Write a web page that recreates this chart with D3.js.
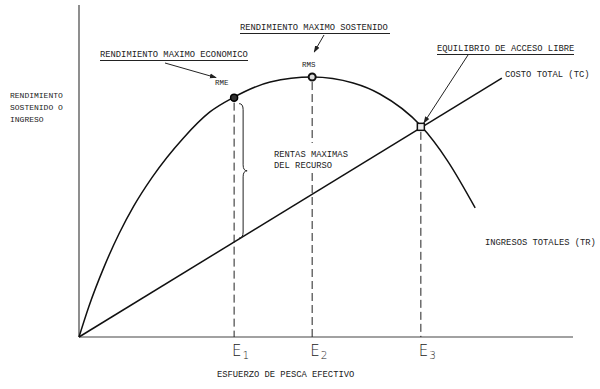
<!DOCTYPE html>
<html>
<head>
<meta charset="utf-8">
<script src="https://cdn.jsdelivr.net/npm/d3@7"></script>
<style>
  body { margin: 0; background: #fff; }
  text { font-family: "Liberation Mono", "DejaVu Sans Mono", monospace; fill: #222; }
</style>
</head>
<body>
<div id="chart"></div>
<script>
// effort (x) vs sustained yield / revenue (y)
const trEffort  = [0, 0.20, 0.51, 0.81, 1.11, 1.48, 2.11, 2.65, 3.12, 3.87, 4.72, 5.55, 6.09, 6.92, 7.45, 8.02];
const trRevenue = [0, 0.92, 2.12, 3.11, 3.95, 4.81, 5.99, 6.78, 7.21, 7.68, 7.83, 7.65, 7.32, 6.36, 5.33, 3.89];
const tcEffort  = [0, 8.56];
const tcCost    = [0, 7.80];

// key effort levels and the matching points
const eLabels = ["1", "2", "3"];
const eValues = [3.14, 4.72, 6.92];
const eYields = [7.21, 7.83, 6.33];

(function() {
    const width = 600, height = 389;

    const x = d3.scaleLinear().domain([0, 10]).range([79, 573]);
    const y = d3.scaleLinear().domain([0, 10]).range([337, 5]);

    const svg = d3.select("#chart").append("svg")
        .attr("width", width)
        .attr("height", height);

    svg.append("defs").append("marker")
        .attr("id", "arrow")
        .attr("viewBox", "0 0 10 10")
        .attr("refX", 9).attr("refY", 5)
        .attr("markerWidth", 7).attr("markerHeight", 7)
        .attr("orient", "auto")
        .append("path")
        .attr("d", "M0,1.5 L10,5 L0,8.5 Z")
        .attr("fill", "#222");

    // axes (plain lines, no ticks)
    svg.append("line")
        .attr("x1", x(0)).attr("y1", y(0)).attr("x2", x(0)).attr("y2", y(10))
        .attr("stroke", "#444").attr("stroke-width", 1.2);
    svg.append("line")
        .attr("x1", x(0)).attr("y1", y(0)).attr("x2", x(10)).attr("y2", y(0))
        .attr("stroke", "#444").attr("stroke-width", 1.2);

    // dashed drop lines
    const dash = "8,4";
    eValues.forEach((e, i) => {
        const top = y(eYields[i]) + 5;
        if (i == 1) {
            // broken where the "rentas" text sits
            svg.append("line")
                .attr("x1", x(e)).attr("x2", x(e))
                .attr("y1", top).attr("y2", 143)
                .attr("stroke", "#222").attr("stroke-dasharray", dash);
            svg.append("line")
                .attr("x1", x(e)).attr("x2", x(e))
                .attr("y1", 173).attr("y2", y(0))
                .attr("stroke", "#222").attr("stroke-dasharray", dash);
        } else {
            svg.append("line")
                .attr("x1", x(e)).attr("x2", x(e))
                .attr("y1", top).attr("y2", y(0))
                .attr("stroke", "#222").attr("stroke-dasharray", dash);
        }
    });

    // total revenue curve
    const tr = trEffort.map((d, i) => [d, trRevenue[i]]);
    const line = d3.line()
        .x(d => x(d[0]))
        .y(d => y(d[1]))
        .curve(d3.curveMonotoneX);
    svg.append("path")
        .attr("d", line(tr))
        .attr("fill", "none")
        .attr("stroke", "#111")
        .attr("stroke-width", 1.5);

    // total cost line
    const tc = tcEffort.map((d, i) => [d, tcCost[i]]);
    svg.append("path")
        .attr("d", d3.line().x(d => x(d[0])).y(d => y(d[1]))(tc))
        .attr("fill", "none")
        .attr("stroke", "#111")
        .attr("stroke-width", 1.5);

    // brace for max rents between TR and TC at E1
    const bx = x(eValues[0]) + 5;
    const bTop = y(eYields[0]) + 6;
    const bBot = y(eValues[0] * tcCost[1] / tcEffort[1]) - 4;
    const bMid = (bTop + bBot) / 2;
    svg.append("path")
        .attr("d", `M${bx},${bTop} Q${bx + 4},${bTop} ${bx + 4},${bTop + 6} L${bx + 4},${bMid - 6}
                    Q${bx + 4},${bMid} ${bx + 8},${bMid} Q${bx + 4},${bMid} ${bx + 4},${bMid + 6}
                    L${bx + 4},${bBot - 6} Q${bx + 4},${bBot} ${bx},${bBot}`)
        .attr("fill", "none")
        .attr("stroke", "#222")
        .attr("stroke-width", 1);

    // points
    svg.append("circle")
        .attr("cx", x(eValues[0])).attr("cy", y(eYields[0])).attr("r", 3.5)
        .attr("fill", "#333").attr("stroke", "#000").attr("stroke-width", 1.5);
    svg.append("circle")
        .attr("cx", x(eValues[1])).attr("cy", y(eYields[1])).attr("r", 3.5)
        .attr("fill", "#ddd").attr("stroke", "#111").attr("stroke-width", 2);
    svg.append("rect")
        .attr("x", x(eValues[2]) - 3.5).attr("y", y(eYields[2]) - 3.5)
        .attr("width", 7).attr("height", 7)
        .attr("fill", "#eee").attr("stroke", "#111").attr("stroke-width", 1.5);

    // E labels under the axis
    const el = svg.append("g").selectAll("text")
        .data(eValues)
        .enter()
        .append("text")
        .attr("x", d => x(d) - 2)
        .attr("y", 356)
        .style("font-family", "'DejaVu Sans', sans-serif")
        .style("font-weight", 200)
        .attr("font-size", 15);
    el.append("tspan").text("E");
    el.append("tspan")
        .attr("dy", 3)
        .attr("dx", 1)
        .attr("font-size", 10.5)
        .text((d, i) => eLabels[i]);

    // text annotations
    const fs = 8.8;
    const label = (t, px, py, size) => svg.append("text")
        .attr("x", px).attr("y", py)
        .attr("font-size", size || fs)
        .text(t);

    const underline = (x1, x2, yy) => svg.append("line")
        .attr("x1", x1).attr("x2", x2).attr("y1", yy).attr("y2", yy)
        .attr("stroke", "#222").attr("stroke-width", 1);

    const arrow = (x1, y1, x2, y2) => svg.append("line")
        .attr("x1", x1).attr("y1", y1).attr("x2", x2).attr("y2", y2)
        .attr("stroke", "#222").attr("stroke-width", 1)
        .attr("marker-end", "url(#arrow)");

    label("RENDIMIENTO", 10, 98, 8);
    label("SOSTENIDO O", 10, 110, 8);
    label("INGRESO", 10, 122, 8);

    label("RENDIMIENTO MAXIMO ECONOMICO", 100, 57);
    underline(100, 248, 60.5);
    arrow(165, 63, x(eValues[0]) - 18, y(eYields[0]) - 20);
    label("RME", 215, 85, 7.5);

    label("RENDIMIENTO MAXIMO SOSTENIDO", 240, 30);
    underline(240, 390, 33.5);
    arrow(324, 35, x(eValues[1]) + 2, y(eYields[1]) - 25);
    label("RMS", 302, 67, 7.5);

    label("EQUILIBRIO DE ACCESO LIBRE", 437, 51);
    underline(437, 574, 54.5);
    arrow(468, 55, x(eValues[2]) + 3, y(eYields[2]) - 4);

    label("COSTO TOTAL (TC)", 505, 77);
    label("INGRESOS TOTALES (TR)", 485, 245);
    label("RENTAS MAXIMAS", 274, 157);
    label("DEL RECURSO", 274, 168);
    label("ESFUERZO DE PESCA EFECTIVO", 217, 377);
})();
</script>
</body>
</html>
